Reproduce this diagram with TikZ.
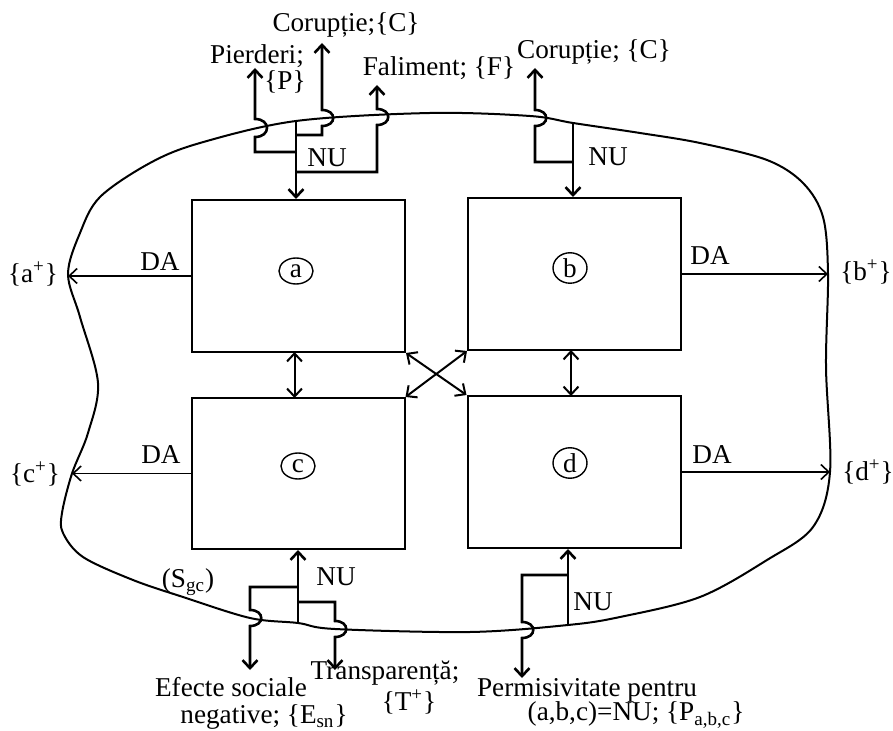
\documentclass[tikz,border=0pt]{standalone}
\usepackage{fontspec}
\setmainfont{Liberation Serif}
\usetikzlibrary{arrows.meta,shapes.geometric}

\begin{document}
\begin{tikzpicture}[x=0.5pt,y=-0.5pt,
  box/.style={draw,line width=1pt,minimum width=106.5pt,minimum height=76pt,inner sep=0pt},
  tag/.style={draw,ellipse,line width=0.7pt,inner sep=0.6pt,minimum width=17pt,minimum height=13pt,font=\fontsize{13.6}{15}\selectfont},
  lbl/.style={font=\fontsize{13.6}{16}\selectfont,inner sep=0pt},
  flow/.style={line width=1.3pt,-{Straight Barb[length=4pt,width=7.5pt]}},
  da/.style={line width=0.8pt,-{Straight Barb[length=4pt,width=7.5pt]}},
  link/.style={line width=1pt,{Straight Barb[length=4pt,width=7.5pt]}-{Straight Barb[length=4pt,width=7.5pt]}},
  border/.style={line width=1pt}]

\useasboundingbox (0,0) rectangle (893,731);

% system boundary
\draw[border] plot[smooth cycle, tension=0.55] coordinates {
  (68,274) (80,233) (100,197) (150,163) (200,143) (296,121) (430,113)
  (530,116) (573,123) (640,133) (700,143) (767,160) (803,183) (823,217)
  (828,274) (826,367) (830,472) (813,527) (767,560) (700,597) (620,617)
  (568,625) (470,632) (335,629) (298,623) (250,618) (183,597) (133,580)
  (83,557) (63,533) (62,513) (72,473.5) (88,433) (98,383) (80,317)};

% the four blocks
\node[box] (a) at (298.5,276) {};
\node[box] (b) at (574.5,274) {};
\node[box,minimum height=75.5pt] (c) at (298,473.5) {};
\node[box] (d) at (574,472) {};
\node[tag] (la) at (296,271) {a};
\node[tag] (lb) at (570,268) {b};
\node[tag] (lc) at (298,466) {c};
\node[tag] (ld) at (570,463) {d};

% links between blocks
\coordinate (ac1) at (294.5,352);
\coordinate (ac2) at (294.5,398);
\coordinate (bd1) at (571,350);
\coordinate (bd2) at (571,396);
\draw[link] (ac1) -- (ac2);
\draw[link] (bd1) -- (bd2);
\draw[link] (a.south east) -- (d.north west);
\draw[link] (c.north east) -- (b.south west);

% DA outputs
\coordinate (ap) at (68,276);
\coordinate (cp) at (72,473.5);
\coordinate (bp) at (828,274);
\coordinate (dp) at (830,472);
\draw[da] (a.west) -- (ap);
\draw[da] (c.west) -- (cp);
\draw[da] (b.east) -- (bp);
\draw[da] (d.east) -- (dp);
\node[lbl] (daA) at (160,262) {DA};
\node[lbl] (daC) at (161,455) {DA};
\node[lbl] (daB) at (710,256) {DA};
\node[lbl] (daD) at (712,455) {DA};
\node[lbl] (aplus) at (33,274) {\{a\textsuperscript{+}\}};
\node[lbl] (cplus) at (35,474) {\{c\textsuperscript{+}\}};
\node[lbl] (bplus) at (866,272) {\{b\textsuperscript{+}\}};
\node[lbl] (dplus) at (868,472) {\{d\textsuperscript{+}\}};

% inputs and losses of block a
\coordinate (sA) at (296,121);
\coordinate (jP) at (296,152);
\coordinate (tP) at (255,68);
\coordinate (jC) at (296,135);
\coordinate (tC) at (322,43);
\coordinate (jF) at (296,172);
\coordinate (tF) at (377,85);
\draw[flow] (sA) -- (sA |- a.north);
\draw[flow] (jP) -- (255,152) -- (255,137) .. controls (271,137) and (271,119) .. (255,119) -- (tP);
\draw[flow] (jC) -- (322,135) -- (322,126) .. controls (337,126) and (337,110) .. (322,110) -- (tC);
\draw[flow] (jF) -- (377,172) -- (377,125) .. controls (392,125) and (392,109) .. (377,109) -- (tF);
\node[lbl] (corA) at (346,25) {Corupție;\{C\}};
\node[lbl] (pier1) at (257,56) {Pierderi;};
\node[lbl] (pier2) at (285,82) {\{P\}};
\node[lbl] (fal) at (439,68) {Faliment; \{F\}};
\node[lbl] (nuA) at (327,158) {NU};

% block b
\coordinate (sB) at (573,123);
\coordinate (jC2) at (573,162);
\coordinate (tC2) at (535,68);
\draw[flow] (sB) -- (sB |- b.north);
\draw[flow] (jC2) -- (535,162) -- (535,126) .. controls (550,126) and (550,110) .. (535,110) -- (tC2);
\node[lbl] (corB) at (594,52) {Corupție; \{C\}};
\node[lbl] (nuB) at (608,157) {NU};

% block c
\coordinate (sC) at (298,623);
\coordinate (jE) at (298,587);
\coordinate (tE) at (250,670);
\coordinate (jT) at (298,602);
\coordinate (tT) at (335,670);
\draw[flow] (sC) -- (sC |- c.south);
\draw[flow] (jE) -- (250,587) -- (250,610) .. controls (265,610) and (265,626) .. (250,626) -- (tE);
\draw[flow] (jT) -- (335,602) -- (335,621) .. controls (350,621) and (350,637) .. (335,637) -- (tT);
\node[lbl] (nuC) at (336,577) {NU};
\node[lbl] (sgc) at (188,582) {(S\textsubscript{gc})};
\node[lbl] (ef1) at (231,687) {Efecte sociale};
\node[lbl] (ef2) at (264,717) {negative; \{E\textsubscript{sn}\}};
\node[lbl] (tr1) at (385,673) {Transparență;};
\node[lbl] (tr2) at (409,702) {\{T\textsuperscript{+}\}};

% block d
\coordinate (sD) at (568,625);
\coordinate (jR) at (568,575);
\coordinate (tR) at (522,678);
\draw[flow] (sD) -- (sD |- d.south);
\draw[flow] (jR) -- (522,575) -- (522,622) .. controls (537,622) and (537,638) .. (522,638) -- (tR);
\node[lbl] (nuD) at (593,602) {NU};
\node[lbl] (pe1) at (587,690) {Permisivitate pentru};
\node[lbl] (pe2) at (636,715) {(a,b,c)=NU; \{P\textsubscript{a,b,c}\}};
\end{tikzpicture}
\end{document}
